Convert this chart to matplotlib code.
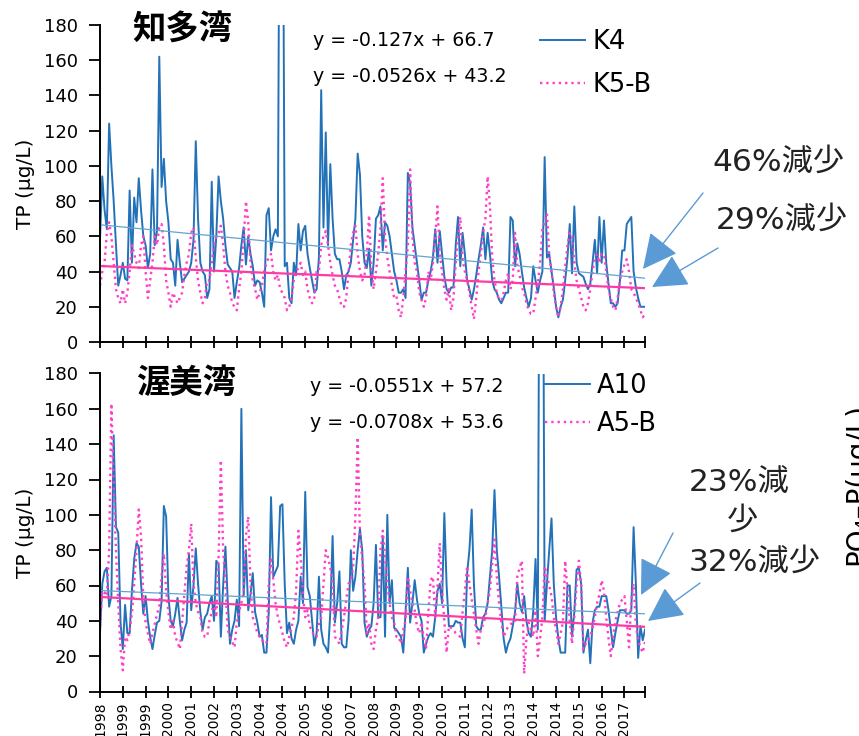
import matplotlib.pyplot as plt
import numpy as np
from matplotlib.patches import FancyArrowPatch

plt.rcParams['font.family'] = ['DejaVu Sans', 'Noto Sans CJK JP']

# 月別TP (μg/L)、1998年4月〜2018年3月
k4 = [58, 94, 75, 64, 124, 100, 80, 55, 32, 38, 45, 36,
      35, 86, 45, 82, 68, 93, 75, 60, 55, 42, 50, 98,
      55, 63, 162, 88, 104, 80, 68, 47, 45, 32, 58, 45,
      34, 36, 38, 40, 45, 58, 114, 70, 45, 40, 38, 25,
      30, 91, 40, 60, 94, 80, 70, 55, 44, 42, 40, 25,
      34, 42, 55, 65, 44, 60, 50, 43, 32, 35, 34, 28,
      20, 72, 76, 52, 60, 64, 60, 360, 340, 43, 45, 25,
      22, 45, 38, 67, 52, 63, 66, 50, 42, 35, 28, 30,
      48, 143, 65, 119, 55, 101, 70, 50, 47, 47, 40, 30,
      38, 40, 45, 58, 70, 107, 95, 60, 45, 42, 53, 32,
      45, 70, 72, 77, 52, 68, 66, 60, 50, 40, 35, 28,
      28, 30, 25, 96, 90, 65, 55, 45, 35, 24, 28, 28,
      35, 40, 48, 64, 45, 63, 50, 37, 30, 28, 31, 31,
      55, 71, 43, 62, 50, 35, 30, 24, 30, 38, 47, 55,
      65, 47, 62, 50, 35, 30, 28, 24, 22, 25, 28, 28,
      71, 69, 43, 56, 50, 40, 31, 25, 20, 25, 43, 35,
      28, 35, 40, 105, 48, 50, 40, 31, 20, 14, 20, 24,
      35, 48, 67, 39, 77, 45, 39, 38, 37, 33, 30, 33,
      45, 58, 39, 71, 45, 69, 45, 33, 22, 22, 20, 22,
      35, 52, 52, 67, 69, 71, 40, 31, 25, 20, 20, 20]

k5b = [32, 40, 45, 62, 68, 60, 45, 30, 25, 22, 30, 22,
       28, 40, 55, 50, 45, 42, 55, 60, 40, 25, 35, 45,
       60, 55, 65, 67, 55, 35, 28, 20, 28, 25, 22, 25,
       28, 38, 45, 50, 62, 65, 48, 35, 28, 22, 25, 35,
       35, 45, 55, 60, 62, 66, 55, 40, 32, 28, 22, 20,
       18, 30, 40, 58, 80, 68, 45, 35, 30, 24, 28, 32,
       40, 45, 48, 50, 40, 35, 38, 30, 28, 25, 18, 20,
       25, 35, 40, 42, 45, 38, 40, 30, 25, 22, 25, 40,
       40, 55, 60, 63, 55, 45, 38, 32, 30, 25, 20, 20,
       25, 40, 55, 62, 66, 50, 40, 35, 38, 50, 72, 42,
       30, 40, 50, 65, 93, 60, 48, 40, 32, 25, 26, 18,
       14, 25, 40, 55, 98, 60, 45, 40, 28, 24, 20, 25,
       40, 35, 45, 60, 77, 50, 40, 30, 24, 30, 18, 25,
       45, 60, 71, 47, 40, 35, 28, 20, 13, 25, 40, 50,
       62, 70, 94, 77, 48, 35, 28, 24, 24, 28, 35, 39,
       30, 35, 62, 43, 38, 31, 28, 22, 18, 16, 16, 25,
       33, 45, 64, 68, 73, 50, 40, 28, 20, 14, 20, 30,
       43, 55, 62, 60, 45, 35, 30, 25, 20, 18, 22, 30,
       40, 48, 50, 45, 50, 50, 40, 30, 25, 20, 18, 25,
       35, 40, 44, 47, 40, 30, 28, 25, 22, 18, 14, 16]

a10 = [33, 61, 68, 70, 48, 54, 145, 93, 90, 39, 24, 49,
       33, 33, 57, 75, 84, 82, 61, 44, 54, 40, 31, 24,
       32, 39, 40, 51, 105, 99, 54, 40, 37, 44, 53, 40,
       29, 35, 39, 78, 46, 60, 81, 61, 45, 35, 42, 44,
       50, 54, 40, 74, 72, 31, 60, 82, 52, 27, 35, 40,
       52, 37, 160, 54, 80, 46, 55, 67, 45, 39, 31, 32,
       22, 22, 45, 110, 65, 68, 71, 105, 106, 61, 33, 39,
       30, 27, 35, 40, 65, 50, 113, 59, 54, 40, 26, 33,
       65, 35, 27, 25, 22, 45, 88, 39, 50, 68, 27, 25,
       25, 40, 80, 57, 65, 80, 92, 80, 39, 31, 35, 37,
       50, 83, 42, 42, 88, 31, 100, 50, 63, 36, 35, 33,
       31, 22, 45, 70, 39, 50, 63, 52, 44, 40, 22, 27,
       31, 33, 31, 42, 57, 61, 50, 101, 60, 37, 37, 37,
       40, 39, 39, 30, 25, 67, 80, 103, 60, 37, 35, 35,
       42, 44, 50, 65, 80, 114, 80, 65, 48, 30, 22, 27,
       30, 37, 45, 61, 50, 45, 54, 40, 33, 31, 46, 75,
       35, 380, 360, 40, 61, 80, 98, 61, 42, 30, 22, 22,
       22, 60, 60, 31, 45, 69, 70, 61, 22, 29, 35, 16,
       39, 46, 48, 48, 54, 54, 54, 46, 35, 25, 33, 40,
       46, 46, 46, 44, 44, 46, 93, 61, 19, 37, 29, 35]

a5b = [37, 57, 56, 54, 80, 163, 118, 80, 50, 24, 12, 31,
       29, 35, 44, 61, 80, 103, 88, 52, 39, 33, 27, 33,
       38, 44, 48, 65, 78, 57, 45, 35, 40, 31, 28, 24,
       39, 55, 71, 80, 95, 61, 50, 45, 42, 33, 31, 31,
       40, 45, 52, 42, 76, 131, 80, 61, 35, 31, 28, 25,
       39, 45, 50, 57, 88, 99, 61, 42, 38, 33, 31, 29,
       28, 27, 61, 76, 63, 50, 42, 38, 33, 28, 25, 31,
       36, 42, 57, 91, 76, 55, 42, 46, 37, 34, 31, 31,
       38, 42, 61, 80, 76, 70, 61, 31, 29, 27, 35, 42,
       52, 61, 63, 70, 99, 144, 88, 75, 61, 33, 39, 27,
       24, 35, 42, 80, 91, 76, 61, 50, 42, 39, 31, 31,
       27, 35, 40, 65, 57, 50, 46, 37, 33, 39, 30, 24,
       45, 63, 65, 42, 60, 84, 57, 40, 22, 37, 36, 35,
       33, 32, 31, 45, 57, 71, 61, 52, 44, 35, 27, 35,
       38, 42, 50, 57, 72, 86, 65, 50, 39, 31, 34, 37,
       38, 39, 39, 65, 70, 74, 10, 30, 39, 35, 31, 46,
       20, 30, 42, 71, 65, 60, 54, 42, 35, 27, 33, 39,
       74, 57, 40, 27, 42, 60, 74, 61, 24, 27, 29, 31,
       36, 42, 50, 55, 63, 57, 42, 30, 20, 31, 40, 45,
       50, 52, 54, 40, 25, 52, 61, 37, 29, 25, 22, 28]

tick_labels = ['1998', '1999', '1999', '2000', '2001', '2002', '2003', '2004',
               '2004', '2005', '2006', '2007', '2008', '2009', '2009', '2010',
               '2011', '2012', '2013', '2014', '2014', '2015', '2016', '2017']

# 近似直線 (傾き, 切片)
trend_k4 = (-0.127, 66.7)
trend_k5b = (-0.0526, 43.2)
trend_a10 = (-0.0551, 57.2)
trend_a5b = (-0.0708, 53.6)

BLUE = '#2372b8'
BLUE_T = '#62a3d2'
PINK = '#ff3fc8'
PINK_T = '#ff3aa8'
ARROW = '#5b9bd5'
JP = ['Noto Sans CJK JP', 'DejaVu Sans']

W, H = 859, 736
fig = plt.figure(figsize=(W / 100, H / 100), dpi=100)


def fx(x):
    return x / W


def fy(y):
    return 1 - y / H


def panel(top, bottom, s1, s2, t1, t2, names, show_labels):
    ax = fig.add_axes([fx(100), fy(bottom), fx(645) - fx(100), fy(top) - fy(bottom)])
    n = len(s1)
    idx = np.arange(n)
    ax.plot(idx, s1, color=BLUE, lw=1.4, label=names[0])
    ax.plot(idx, s2, color=PINK, lw=1.7, ls=':', label=names[1])
    xt = idx + 1
    ax.plot(idx, t1[0] * xt + t1[1], color=BLUE_T, lw=0.9)
    ax.plot(idx, t2[0] * xt + t2[1], color=PINK_T, lw=1.6)
    ax.set_xlim(0, n - 1)
    ax.set_ylim(0, 180)
    ax.set_yticks(range(0, 181, 20))
    ax.set_xticks(list(range(0, n, 10)) + [n - 1])
    if show_labels:
        ax.set_xticklabels(tick_labels + [''], rotation=90, fontsize=10)
    else:
        ax.set_xticklabels([])
    ax.tick_params(axis='y', labelsize=13, length=8, width=1.3, direction='out', pad=8)
    ax.tick_params(axis='x', length=8, width=1.3, direction='inout', pad=3)
    for s in ('top', 'right'):
        ax.spines[s].set_visible(False)
    for s in ('left', 'bottom'):
        ax.spines[s].set_linewidth(1.4)
    ax.set_ylabel('TP (μg/L)', fontsize=14.5, labelpad=6)
    ax.patch.set_alpha(0)
    return ax


ax1 = panel(25, 342, k4, k5b, trend_k4, trend_k5b, ['K4', 'K5-B'], False)
ax2 = panel(373.5, 691.5, a10, a5b, trend_a10, trend_a5b, ['A10', 'A5-B'], True)

for ax, lx, ly, sp in ((ax1, 540, 29, 0.68), (ax2, 545, 373, 0.45)):
    ax.legend(loc='upper left', bbox_to_anchor=(fx(lx), fy(ly)), bbox_transform=fig.transFigure,
              frameon=False, fontsize=18.5, handlelength=1.75, handletextpad=0.28, labelspacing=sp,
              borderpad=0, borderaxespad=0)

fig.text(fx(182), fy(30), '知多湾', fontsize=24, fontweight='bold', ha='center', va='center', family=JP)
fig.text(fx(186), fy(383), '渥美湾', fontsize=24, fontweight='bold', ha='center', va='center', family=JP)

fig.text(fx(313), fy(41), 'y = -0.127x + 66.7', fontsize=13.7, ha='left', va='center')
fig.text(fx(313), fy(77), 'y = -0.0526x + 43.2', fontsize=13.7, ha='left', va='center')
fig.text(fx(310), fy(387), 'y = -0.0551x + 57.2', fontsize=13.7, ha='left', va='center')
fig.text(fx(310), fy(422), 'y = -0.0708x + 53.6', fontsize=13.7, ha='left', va='center')

fig.text(fx(712), fy(162), '46%減少', fontsize=22.5, ha='left', va='center', color='#222222')
fig.text(fx(716), fy(220), '29%減少', fontsize=22.5, ha='left', va='center', color='#222222')
fig.text(fx(689), fy(482), '23%減', fontsize=22.5, ha='left', va='center', color='#222222')
fig.text(fx(742), fy(521), '少', fontsize=22.5, ha='center', va='center', color='#222222')
fig.text(fx(689), fy(562), '32%減少', fontsize=22.5, ha='left', va='center', color='#222222')

fig.text(fx(843), fy(484), 'PO₄–P(μg/L)', fontsize=20, rotation=90, ha='left', va='center')

arrows = [((703, 193), (643, 269)), ((718, 248), (652, 287)),
          ((673, 533), (641, 595)), ((700, 583), (648, 621))]
for (x0, y0), (x1, y1) in arrows:
    fig.add_artist(FancyArrowPatch((fx(x0), fy(y0)), (fx(x1), fy(y1)), transform=fig.transFigure,
                                   arrowstyle='-|>,head_length=2.2,head_width=1.1', mutation_scale=10,
                                   lw=1.0, color=ARROW, shrinkA=0, shrinkB=0))

fig.savefig('out.png', dpi=100)
